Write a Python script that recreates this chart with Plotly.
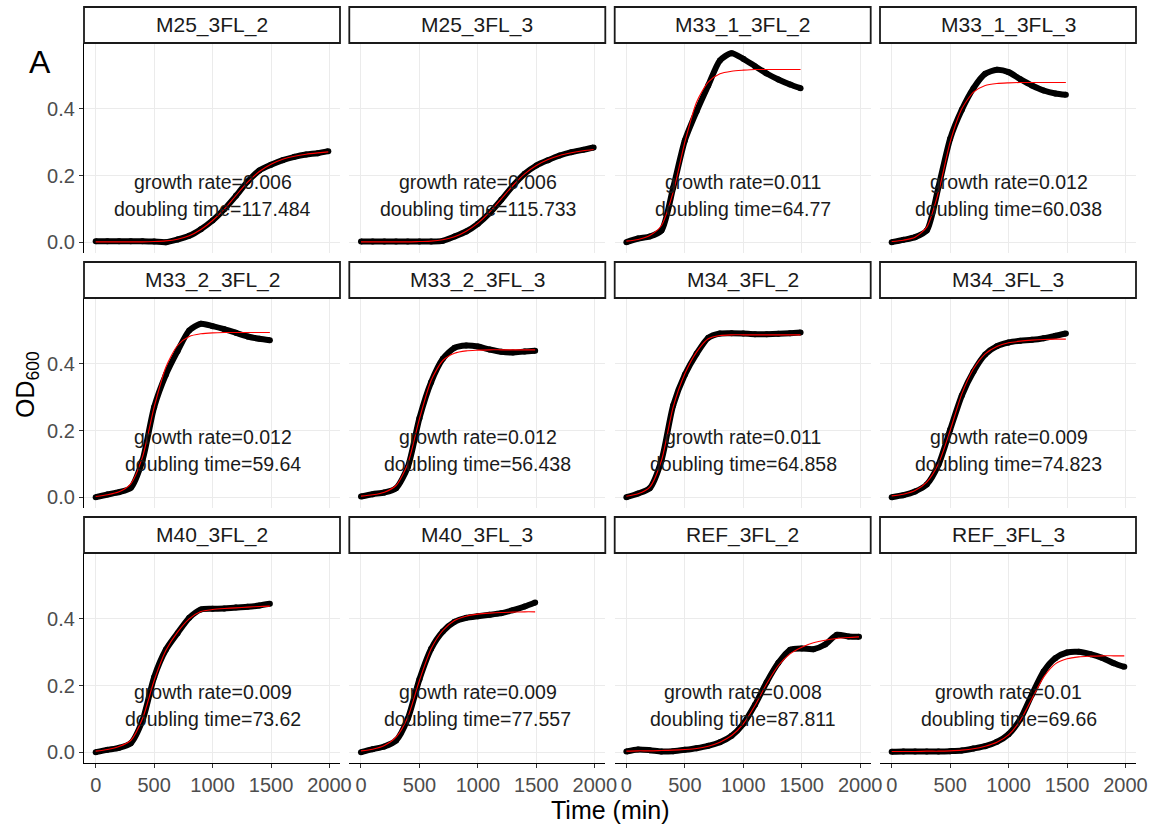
import plotly.graph_objects as go

# ---------------- data ----------------
panel_names = ["M25_3FL_2", "M25_3FL_3", "M33_1_3FL_2", "M33_1_3FL_3",
               "M33_2_3FL_2", "M33_2_3FL_3", "M34_3FL_2", "M34_3FL_3",
               "M40_3FL_2", "M40_3FL_3", "REF_3FL_2", "REF_3FL_3"]
growth_rates = ["0.006", "0.006", "0.011", "0.012", "0.012", "0.012",
                "0.011", "0.009", "0.009", "0.009", "0.008", "0.01"]
doubling_times = ["117.484", "115.733", "64.77", "60.038", "59.64", "56.438",
                  "64.858", "74.823", "73.62", "77.557", "87.811", "69.66"]

time_long = [0, 100, 200, 300, 400, 500, 600, 700, 800, 900, 1000,
             1100, 1200, 1300, 1400, 1500, 1600, 1700, 1800, 1900, 1990]
time_short = [0, 100, 200, 300, 400, 500, 600, 700, 800, 900, 1000,
              1100, 1200, 1300, 1400, 1490]

od_M25_3FL_2 = [0.003, 0.003, 0.003, 0.003, 0.003, 0.002, 0.000, 0.008, 0.019, 0.039, 0.065,
                0.099, 0.139, 0.182, 0.215, 0.232, 0.246, 0.256, 0.263, 0.267, 0.273]
fit_M25_3FL_2 = [0.001, 0.001, 0.001, 0.001, 0.001, 0.002, 0.004, 0.009, 0.019, 0.038, 0.065,
                 0.099, 0.140, 0.180, 0.212, 0.234, 0.249, 0.258, 0.264, 0.268, 0.271]
od_M25_3FL_3 = [0.002, 0.002, 0.002, 0.002, 0.002, 0.002, 0.002, 0.004, 0.017, 0.032, 0.055,
                0.087, 0.127, 0.169, 0.205, 0.230, 0.246, 0.260, 0.270, 0.277, 0.284]
fit_M25_3FL_3 = [0.001, 0.001, 0.001, 0.001, 0.001, 0.002, 0.003, 0.007, 0.016, 0.033, 0.057,
                 0.090, 0.130, 0.170, 0.205, 0.230, 0.248, 0.260, 0.268, 0.274, 0.278]
od_M33_1_3FL_2 = [0.000, 0.011, 0.017, 0.035, 0.163, 0.305, 0.392, 0.470, 0.545, 0.567, 0.550,
                  0.528, 0.506, 0.488, 0.473, 0.462]
fit_M33_1_3FL_2 = [0.003, 0.008, 0.020, 0.050, 0.150, 0.300, 0.420, 0.480, 0.505, 0.513, 0.516,
                   0.518, 0.518, 0.518, 0.518, 0.518]
od_M33_1_3FL_3 = [0.000, 0.007, 0.015, 0.035, 0.165, 0.310, 0.397, 0.462, 0.505, 0.517, 0.510,
                  0.489, 0.470, 0.455, 0.446, 0.442]
fit_M33_1_3FL_3 = [0.002, 0.006, 0.015, 0.045, 0.150, 0.300, 0.400, 0.450, 0.470, 0.476, 0.478,
                   0.479, 0.479, 0.479, 0.479, 0.479]
od_M33_2_3FL_2 = [0.000, 0.008, 0.015, 0.028, 0.110, 0.270, 0.367, 0.438, 0.500, 0.520, 0.513,
                  0.504, 0.493, 0.482, 0.475, 0.471]
fit_M33_2_3FL_2 = [0.002, 0.007, 0.016, 0.040, 0.120, 0.270, 0.390, 0.455, 0.482, 0.490, 0.493,
                   0.494, 0.494, 0.494, 0.494, 0.494]
od_M33_2_3FL_3 = [0.002, 0.009, 0.014, 0.027, 0.090, 0.237, 0.345, 0.415, 0.448, 0.455, 0.452,
                  0.443, 0.436, 0.434, 0.437, 0.439]
fit_M33_2_3FL_3 = [0.003, 0.007, 0.015, 0.035, 0.100, 0.235, 0.350, 0.410, 0.432, 0.439, 0.441,
                   0.442, 0.442, 0.442, 0.442, 0.442]
od_M34_3FL_2 = [0.000, 0.011, 0.027, 0.110, 0.275, 0.367, 0.430, 0.478, 0.491, 0.492, 0.491,
                0.489, 0.489, 0.490, 0.492, 0.494]
fit_M34_3FL_2 = [0.003, 0.010, 0.030, 0.110, 0.270, 0.370, 0.435, 0.475, 0.485, 0.487, 0.487,
                 0.487, 0.487, 0.487, 0.487, 0.487]
od_M34_3FL_3 = [0.000, 0.006, 0.017, 0.038, 0.097, 0.202, 0.305, 0.377, 0.428, 0.453, 0.464,
                0.469, 0.472, 0.477, 0.484, 0.491]
fit_M34_3FL_3 = [0.004, 0.009, 0.020, 0.045, 0.100, 0.200, 0.310, 0.385, 0.430, 0.452, 0.463,
                 0.468, 0.471, 0.473, 0.474, 0.474]
od_M40_3FL_2 = [0.000, 0.007, 0.013, 0.027, 0.095, 0.225, 0.307, 0.357, 0.403, 0.428, 0.430,
                0.431, 0.434, 0.436, 0.440, 0.445]
fit_M40_3FL_2 = [0.003, 0.008, 0.017, 0.035, 0.100, 0.215, 0.305, 0.360, 0.400, 0.422, 0.428,
                 0.431, 0.433, 0.435, 0.437, 0.438]
od_M40_3FL_3 = [0.000, 0.009, 0.017, 0.035, 0.100, 0.219, 0.310, 0.362, 0.391, 0.403, 0.408,
                0.412, 0.417, 0.426, 0.437, 0.449]
fit_M40_3FL_3 = [0.004, 0.009, 0.020, 0.045, 0.105, 0.215, 0.310, 0.365, 0.395, 0.408, 0.414,
                 0.417, 0.419, 0.420, 0.421, 0.421]
od_REF_3FL_2 = [0.002, 0.008, 0.006, 0.002, 0.003, 0.007, 0.012, 0.019, 0.030, 0.049, 0.085,
                0.142, 0.210, 0.268, 0.307, 0.311, 0.309, 0.323, 0.352, 0.347, 0.346]
fit_REF_3FL_2 = [0.003, 0.004, 0.004, 0.005, 0.006, 0.008, 0.011, 0.018, 0.030, 0.050, 0.085,
                 0.140, 0.205, 0.260, 0.295, 0.315, 0.328, 0.336, 0.341, 0.344, 0.346]
od_REF_3FL_3 = [0.001, 0.002, 0.002, 0.002, 0.002, 0.003, 0.005, 0.011, 0.018, 0.031, 0.054,
                0.099, 0.173, 0.242, 0.282, 0.299, 0.301, 0.294, 0.283, 0.267, 0.256]
fit_REF_3FL_3 = [0.002, 0.002, 0.002, 0.003, 0.003, 0.004, 0.006, 0.010, 0.018, 0.030, 0.052,
                 0.095, 0.160, 0.225, 0.265, 0.280, 0.286, 0.288, 0.289, 0.289, 0.289]

observed = [od_M25_3FL_2, od_M25_3FL_3, od_M33_1_3FL_2, od_M33_1_3FL_3,
            od_M33_2_3FL_2, od_M33_2_3FL_3, od_M34_3FL_2, od_M34_3FL_3,
            od_M40_3FL_2, od_M40_3FL_3, od_REF_3FL_2, od_REF_3FL_3]
fitted = [fit_M25_3FL_2, fit_M25_3FL_3, fit_M33_1_3FL_2, fit_M33_1_3FL_3,
          fit_M33_2_3FL_2, fit_M33_2_3FL_3, fit_M34_3FL_2, fit_M34_3FL_3,
          fit_M40_3FL_2, fit_M40_3FL_3, fit_REF_3FL_2, fit_REF_3FL_3]

x_ticks = [0, 500, 1000, 1500, 2000]
y_ticks = [0.0, 0.2, 0.4]

# ---------------- layout geometry (pixels) ----------------
W, H = 1156, 829
col_left = [84, 349.3, 614.7, 880]
col_w = 256
strip_top = [7, 262, 517]
strip_h = 36
panel_h = 210

FONT = "Liberation Sans, Arial, sans-serif"


def fx(px):
    return px / W


def fy(py):
    return 1 - py / H


fig = go.Figure()
layout = dict(width=W, height=H, autosize=False,
              margin=dict(l=0, r=0, t=0, b=0),
              paper_bgcolor="white", plot_bgcolor="white",
              showlegend=False, font=dict(family=FONT))
shapes = []
annotations = []

for i, name in enumerate(panel_names):
    r, c = divmod(i, 4)
    k = "" if i == 0 else str(i + 1)
    x0 = col_left[c]
    x1 = x0 + col_w
    st = strip_top[r]
    pt = st + strip_h
    pb = pt + panel_h
    times = time_long if len(observed[i]) == len(time_long) else time_short

    bottom = (r == 2)
    left = (c == 0)
    layout["xaxis" + k] = dict(
        domain=[fx(x0), fx(x1)], anchor="y" + k, range=[-100, 2090],
        tickvals=x_ticks, ticktext=[str(v) for v in x_ticks],
        showticklabels=bottom, ticks="outside" if bottom else "",
        ticklen=4, tickwidth=1, tickcolor="#333333",
        tickfont=dict(size=20, color="#4d4d4d", family=FONT),
        showgrid=True, gridcolor="#ebebeb", gridwidth=1, zeroline=False,
        showline=bottom, linecolor="black", linewidth=1.2,
        fixedrange=True, automargin=False)
    layout["yaxis" + k] = dict(
        domain=[fy(pb), fy(pt)], anchor="x" + k, range=[-0.0325, 0.5975],
        tickvals=y_ticks, ticktext=["0.0", "0.2", "0.4"],
        showticklabels=left, ticks="outside" if left else "",
        ticklen=4, tickwidth=1, tickcolor="#333333",
        tickfont=dict(size=20, color="#4d4d4d", family=FONT),
        showgrid=True, gridcolor="#ebebeb", gridwidth=1, zeroline=False,
        showline=left, linecolor="black", linewidth=1.2,
        fixedrange=True, automargin=False)

    fig.add_trace(go.Scatter(
        x=times, y=observed[i], xaxis="x" + k, yaxis="y" + k,
        mode="lines+markers", line=dict(color="black", width=6, shape="spline", smoothing=0.7),
        marker=dict(color="black", size=6), hoverinfo="skip"))
    fig.add_trace(go.Scatter(
        x=times, y=fitted[i], xaxis="x" + k, yaxis="y" + k,
        mode="lines", line=dict(color="red", width=1.1, shape="spline", smoothing=0.7),
        hoverinfo="skip"))

    annotations.append(dict(x=1000, y=0.18, xref="x" + k, yref="y" + k,
                            text="growth rate=" + growth_rates[i], showarrow=False,
                            xanchor="center", yanchor="middle",
                            font=dict(size=19.5, color="#1a1a1a", family=FONT)))
    annotations.append(dict(x=1000, y=0.10, xref="x" + k, yref="y" + k,
                            text="doubling time=" + doubling_times[i], showarrow=False,
                            xanchor="center", yanchor="middle",
                            font=dict(size=19.5, color="#1a1a1a", family=FONT)))

    # strip
    shapes.append(dict(type="rect", xref="paper", yref="paper",
                       x0=fx(x0), x1=fx(x1), y0=fy(pt), y1=fy(st),
                       fillcolor="white", line=dict(color="#1a1a1a", width=1.8)))
    annotations.append(dict(x=fx((x0 + x1) / 2), y=fy(st + strip_h / 2),
                            xref="paper", yref="paper", text=name, showarrow=False,
                            xanchor="center", yanchor="middle",
                            font=dict(size=21, color="#1a1a1a", family=FONT)))

# axis titles and tag
annotations.append(dict(x=fx(610), y=fy(810), xref="paper", yref="paper",
                        text="Time (min)", showarrow=False, xanchor="center", yanchor="middle",
                        font=dict(size=25, color="black", family=FONT)))
annotations.append(dict(x=fx(27), y=fy(385), xref="paper", yref="paper",
                        text="OD<sub>600</sub>", showarrow=False, textangle=-90,
                        xanchor="center", yanchor="middle",
                        font=dict(size=25, color="black", family=FONT)))
annotations.append(dict(x=fx(40), y=fy(62), xref="paper", yref="paper",
                        text="A", showarrow=False, xanchor="center", yanchor="middle",
                        font=dict(size=32, color="black", family=FONT)))

layout["shapes"] = shapes
layout["annotations"] = annotations
fig.update_layout(**layout)

fig.write_html("out.html", config={"displayModeBar": False},
               post_script="document.body.style.margin='0px';")
